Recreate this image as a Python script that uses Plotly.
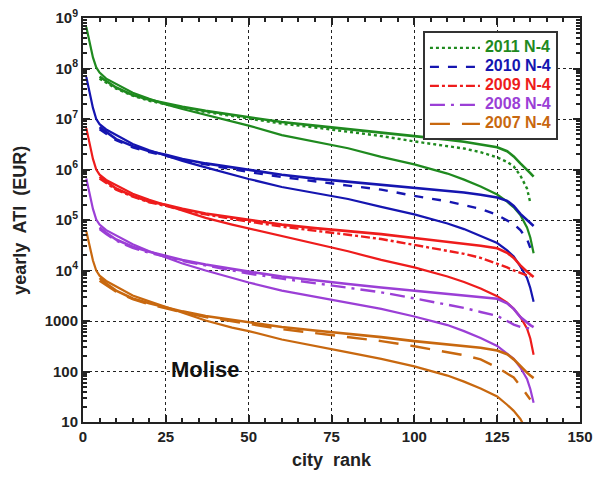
import plotly.graph_objects as go

# ---------------- data ----------------
rank_solid = [1, 2, 3, 4, 5, 7, 10, 15, 20, 25, 30, 37, 45, 50, 60, 70, 80, 90, 100,
              110, 115, 120, 125, 128, 130, 132, 134, 135, 136]
rank_dotted = [5, 7, 10, 15, 20, 25, 30, 37, 45, 50, 60, 70, 80, 90, 100, 110, 115,
               120, 125, 128, 130, 132, 134, 135, 136]
rank_dashed = [5, 7, 10, 15, 20, 25, 30, 37, 45, 50, 60, 70, 80, 90, 100, 110, 115,
               120, 125, 128, 130, 132, 134, 135]

y2011_solid = [6.6e8, 3.2e8, 1.66e8, 1.05e8, 8.3e7, 6.3e7, 5.0e7, 3.3e7, 2.5e7, 1.95e7, 1.58e7,
               1.2e7, 8.9e6, 7.4e6, 4.8e6, 3.55e6, 2.63e6, 1.78e6, 1.26e6, 8.3e5, 6.3e5, 4.6e5,
               3.2e5, 2.3e5, 1.78e5, 1.26e5, 7.1e4, 4.5e4, 2.2e4]
y2010_solid = [6.8e7, 3.2e7, 1.66e7, 1.0e7, 7.9e6, 6.2e6, 4.9e6, 3.2e6, 2.4e6, 1.86e6, 1.48e6,
               1.1e6, 7.9e5, 6.5e5, 4.5e5, 3.4e5, 2.6e5, 1.82e5, 1.29e5, 8.5e4, 6.6e4, 4.8e4,
               3.5e4, 2.5e4, 1.9e4, 1.2e4, 7.1e3, 4.5e3, 2.4e3]
y2009_solid = [6.6e6, 3.2e6, 1.62e6, 1.0e6, 7.9e5, 6.2e5, 4.9e5, 3.3e5, 2.5e5, 1.95e5, 1.51e5,
               1.1e5, 8.1e4, 6.8e4, 4.7e4, 3.3e4, 2.4e4, 1.62e4, 1.15e4, 7.6e3, 5.9e3, 4.4e3,
               3.1e3, 2.3e3, 1.74e3, 1.2e3, 710, 450, 215]
y2008_solid = [6.6e5, 3.2e5, 1.66e5, 1.02e5, 8.1e4, 6.3e4, 5.0e4, 3.3e4, 2.4e4, 1.82e4, 1.38e4,
               1.0e4, 7.1e3, 5.8e3, 4.0e3, 3.0e3, 2.3e3, 1.74e3, 1.23e3, 830, 630, 460,
               320, 230, 178, 120, 71, 45, 24]
y2007_solid = [6.0e4, 3.0e4, 1.58e4, 1.0e4, 7.9e3, 6.2e3, 4.9e3, 3.2e3, 2.45e3, 1.9e3, 1.45e3,
               1.02e3, 740, 630, 430, 316, 240, 178, 126, 83, 63, 46,
               32, 22, 16.6, 11.5, 6.6, 4.5, 2.5]

y2011_dotted = [6.9e7, 5.6e7, 4.2e7, 3.0e7, 2.4e7, 2.04e7, 1.74e7, 1.45e7, 1.2e7, 1.07e7, 8.7e6,
                7.4e6, 6.3e6, 5.5e6, 4.6e6, 3.9e6, 3.55e6, 3.16e6, 2.75e6, 2.3e6, 1.82e6,
                1.32e6, 1.0e6, 8.5e5, 7.2e5]
y2010_dotted = [6.9e6, 5.5e6, 4.0e6, 2.9e6, 2.3e6, 1.95e6, 1.62e6, 1.32e6, 1.1e6, 9.8e5, 7.9e5,
                6.6e5, 5.75e5, 5.0e5, 4.3e5, 3.7e5, 3.5e5, 3.16e5, 2.8e5, 2.4e5, 1.9e5,
                1.32e5, 1.0e5, 8.7e4, 7.6e4]
y2009_dotted = [7.2e5, 5.75e5, 4.2e5, 3.0e5, 2.3e5, 2.0e5, 1.66e5, 1.35e5, 1.12e5, 1.0e5, 8.1e4,
                6.9e4, 6.0e4, 5.25e4, 4.4e4, 3.7e4, 3.4e4, 3.1e4, 2.75e4, 2.24e4, 1.78e4,
                1.26e4, 9.5e3, 8.3e3, 7.4e3]
y2008_dotted = [7.1e4, 5.6e4, 4.1e4, 2.95e4, 2.34e4, 1.95e4, 1.62e4, 1.32e4, 1.07e4, 9.5e3, 7.6e3,
                6.3e3, 5.4e3, 4.6e3, 4.0e3, 3.5e3, 3.2e3, 2.95e3, 2.75e3, 2.24e3, 1.74e3,
                1.2e3, 930, 830, 760]
y2007_dotted = [7.1e3, 5.5e3, 4.0e3, 2.8e3, 2.24e3, 1.86e3, 1.55e3, 1.26e3, 1.05e3, 950, 760,
                650, 560, 480, 400, 340, 316, 295, 260, 220, 174,
                126, 95, 83, 74]

y2011_dashed = [6.3e7, 5.25e7, 4.0e7, 2.9e7, 2.3e7, 1.95e7, 1.66e7, 1.38e7, 1.15e7, 1.0e7, 8.1e6,
                6.8e6, 5.6e6, 4.6e6, 3.6e6, 2.95e6, 2.6e6, 2.2e6, 1.74e6, 1.41e6, 1.15e6,
                7.6e5, 4.2e5, 2.2e5]
y2010_dashed = [6.3e6, 5.1e6, 3.8e6, 2.75e6, 2.2e6, 1.86e6, 1.55e6, 1.26e6, 1.02e6, 8.9e5, 7.1e5,
                5.75e5, 4.8e5, 4.0e5, 3.0e5, 2.34e5, 2.0e5, 1.66e5, 1.26e5, 1.0e5, 8.3e4,
                6.3e4, 4.2e4, 2.8e4]
y2009_dashed = [6.6e5, 5.4e5, 4.0e5, 2.9e5, 2.24e5, 1.9e5, 1.58e5, 1.29e5, 1.05e5, 9.3e4, 7.4e4,
                6.2e4, 5.1e4, 4.2e4, 3.2e4, 2.5e4, 2.14e4, 1.78e4, 1.38e4, 1.15e4, 1.0e4,
                8.9e3, 7.9e3, 7.6e3]
y2008_dashed = [6.6e4, 5.25e4, 3.9e4, 2.8e4, 2.24e4, 1.86e4, 1.55e4, 1.26e4, 1.0e4, 8.7e3, 6.9e3,
                5.6e3, 4.6e3, 3.7e3, 2.8e3, 2.14e3, 1.82e3, 1.51e3, 1.26e3, 1.0e3, 850,
                760, 720, 710]
y2007_dashed = [6.3e3, 5.1e3, 3.8e3, 2.7e3, 2.14e3, 1.78e3, 1.48e3, 1.2e3, 980, 870, 690,
                575, 480, 400, 316, 240, 210, 174, 120, 91, 76,
                52, 35, 28]

series_names = ["2011 N-4", "2010 N-4", "2009 N-4", "2008 N-4", "2007 N-4"]
colors = ["#1f8a1f", "#1515b0", "#ee1c1c", "#9b3fd6", "#c8680f"]
dashes = ["dot", "dash", "dashdot", "longdashdot", "20px,12px"]
solid_sets = [y2011_solid, y2010_solid, y2009_solid, y2008_solid, y2007_solid]
dotted_sets = [y2011_dotted, y2010_dotted, y2009_dotted, y2008_dotted, y2007_dotted]
dashed_sets = [y2011_dashed, y2010_dashed, y2009_dashed, y2008_dashed, y2007_dashed]

y_tickvals = [10, 100, 1000, 1e4, 1e5, 1e6, 1e7, 1e8, 1e9]
y_ticktext = ["10", "100", "1000", "10<sup>4</sup>", "10<sup>5</sup>", "10<sup>6</sup>",
              "10<sup>7</sup>", "10<sup>8</sup>", "10<sup>9</sup>"]
x_tickvals = [0, 25, 50, 75, 100, 125, 150]

# ---------------- figure ----------------
fig = go.Figure()
for i in range(5):
    fig.add_trace(go.Scatter(x=rank_solid, y=solid_sets[i], mode="lines",
                             line=dict(color=colors[i], width=2.2), showlegend=False,
                             hoverinfo="skip"))
    fig.add_trace(go.Scatter(x=rank_dotted, y=dotted_sets[i], mode="lines",
                             line=dict(color=colors[i], width=2.6), showlegend=False,
                             hoverinfo="skip"))
    fig.add_trace(go.Scatter(
        x=rank_dashed, y=dashed_sets[i], mode="lines",
        line=dict(color=colors[i], width=2.4, dash=dashes[i]),
        name="<b><span style='color:%s;font-size:16px'>%s</span></b>" % (colors[i], series_names[i]),
        legendrank=i + 1, showlegend=True))

FONT = "Liberation Sans, Arial, sans-serif"
fig.update_layout(
    width=594, height=477,
    margin=dict(l=83, r=14, t=18, b=55, autoexpand=False),
    paper_bgcolor="white", plot_bgcolor="white",
    font=dict(family=FONT, color="#222", size=14),
    showlegend=True,
    legend=dict(x=0.684, y=0.967, xanchor="left", yanchor="top",
                bgcolor="white", bordercolor="#333", borderwidth=2,
                font=dict(family=FONT, size=10), tracegroupgap=0,
                itemwidth=50),
    xaxis=dict(range=[0, 150], tickvals=x_tickvals, ticks="inside", ticklen=7,
               tickwidth=1.5, tickcolor="#222", showline=True, linecolor="#222",
               linewidth=2, mirror="allticks", showgrid=True, gridcolor="#222",
               griddash="dot", gridwidth=1, zeroline=False, automargin=False,
               tickfont=dict(family=FONT, size=15, color="#222", weight="bold"),
               minor=dict(dtick=5, ticks="inside", ticklen=4, tickcolor="#222",
                          showgrid=False)),
    yaxis=dict(type="log", range=[1, 9], tickvals=y_tickvals, ticktext=y_ticktext,
               ticks="inside", ticklen=7, tickwidth=1.5, tickcolor="#222",
               showline=True, linecolor="#222", linewidth=2, mirror="allticks",
               showgrid=True, gridcolor="#222", griddash="dot", gridwidth=1,
               zeroline=False, automargin=False,
               tickfont=dict(family=FONT, size=15, color="#222", weight="bold"),
               minor=dict(ticks="inside", ticklen=4, tickcolor="#222", dtick="D1",
                          showgrid=False)),
    annotations=[
        dict(text="<b>Molise</b>", x=36.7, y=2.03, xref="x", yref="y", showarrow=False,
             font=dict(family=FONT, size=22, color="#111")),
        dict(text="<b>city  rank</b>", x=0.5, y=-0.095, xref="paper", yref="paper",
             showarrow=False, yanchor="middle",
             font=dict(family=FONT, size=18, color="#222")),
        dict(text="<b>yearly  ATI  (EUR)</b>", x=-0.127, y=0.5, xref="paper", yref="paper",
             showarrow=False, textangle=-90, xanchor="center",
             font=dict(family=FONT, size=18, color="#222")),
    ],
)

fig.write_html("out.html", config={"displayModeBar": False},
               post_script="document.body.style.margin='0';document.body.style.overflow='hidden';")
